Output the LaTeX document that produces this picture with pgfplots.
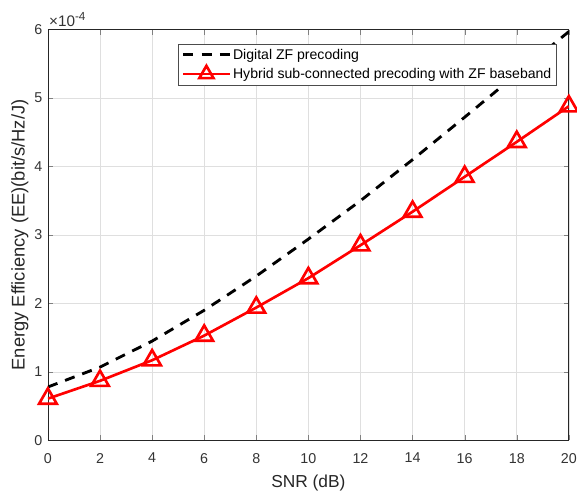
\documentclass[border=0pt]{standalone}
\usepackage{fontspec}
\setmainfont{Liberation Sans}
\usepackage{pgfplots}
\pgfplotsset{compat=1.18}

\begin{document}
\begin{tikzpicture}
\begin{axis}[
    name=ax,
    scale only axis, width=511pt, height=403pt,
    xmin=0, xmax=20, ymin=0, ymax=6e-4,
    xtick={0,2,...,20}, ytick={0,1e-4,2e-4,3e-4,4e-4,5e-4,6e-4},
    scaled y ticks=base 10:4,
    ytick scale label code/.code={×10\raisebox{6pt}{\fontsize{11.5}{12}\selectfont -4}},
    every y tick scale label/.style={at={(rel axis cs:0,1)}, anchor=south west, inner sep=1pt, yshift=2pt, font=\fontsize{15}{17}\selectfont, text=black!80},
    /pgf/number format/assume math mode=true,
    tick label style={font=\fontsize{14}{16}\selectfont, text=black!80},
    xlabel style={font=\fontsize{17}{20}\selectfont, text=black!85},
    ylabel style={font=\fontsize{18}{21}\selectfont, text=black!85},
    xlabel={SNR (dB)}, ylabel={Energy Efficiency (EE)(bit/s/Hz/J)},
    xticklabel shift=9pt, yticklabel shift=2pt,
    xlabel shift=5pt, ylabel shift=-1pt,
    grid=major, major grid style={gray!25, line width=0.6pt},
    tick align=inside, major tick length=5pt,
    axis line style={black!85, line width=0.8pt},
    legend style={at={(0.977,0.966)}, anchor=north east, font=\fontsize{13.8}{16}\selectfont,
        draw=black!70, line width=0.8pt, inner sep=3pt, row sep=3pt, cells={anchor=west}},
    legend image code/.code={\draw[mark repeat=2, mark phase=2, #1] plot coordinates {(0cm,0cm) (0.8cm,0cm) (1.6cm,0cm)};},
    legend image post style={mark size=8pt},
    legend cell align=left,
]
\addplot[black, line width=2.8pt, dash pattern=on 10pt off 8pt] coordinates {
 (0,0.78e-4) (2,1.07e-4) (4,1.45e-4) (6,1.90e-4) (8,2.40e-4) (10,2.94e-4)
 (12,3.50e-4) (14,4.10e-4) (16,4.72e-4) (18,5.35e-4) (20,5.97e-4)};
\addlegendentry{Digital ZF precoding}
\addplot[red, line width=2.6pt, mark=triangle, mark size=10pt, mark options={solid, line width=2.6pt}] coordinates {
 (0,0.61e-4) (2,0.87e-4) (4,1.17e-4) (6,1.53e-4) (8,1.94e-4) (10,2.37e-4)
 (12,2.85e-4) (14,3.34e-4) (16,3.85e-4) (18,4.36e-4) (20,4.88e-4)};
\addlegendentry{Hybrid sub-connected precoding with ZF baseband}
\end{axis}
\pgfresetboundingbox
\path (ax.south west) ++(-47pt,-49pt) rectangle ([shift={(8pt,29pt)}]ax.north east);
\end{tikzpicture}
\end{document}
